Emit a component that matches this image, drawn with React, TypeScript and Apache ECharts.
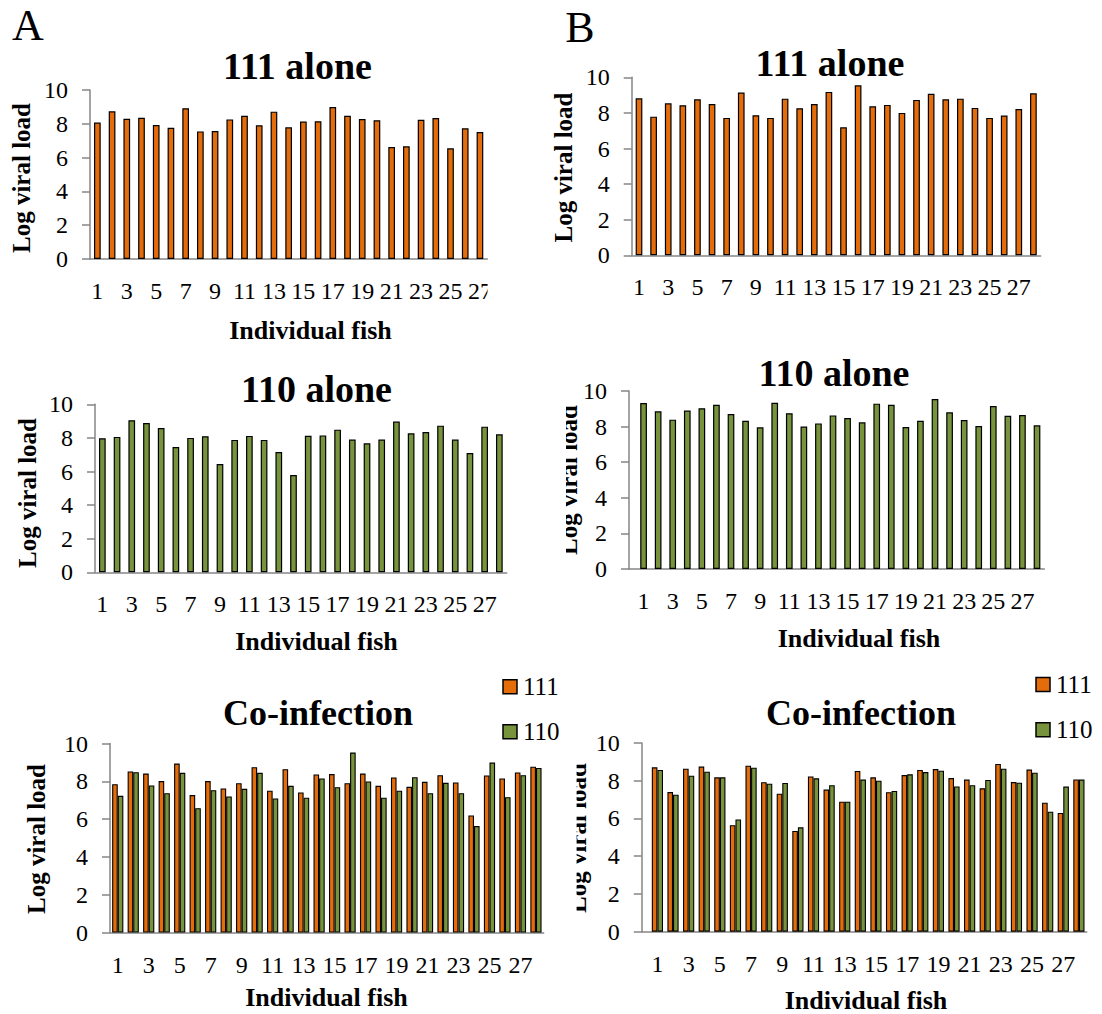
import React, { useEffect, useRef } from "react";
import * as echarts from "echarts";

// ---- data (Log viral load per individual fish) ----
const fishA111Alone = [8.07, 8.74, 8.30, 8.36, 7.93, 7.77, 8.92, 7.55, 7.57, 8.26, 8.48, 7.91, 8.72, 7.79, 8.13, 8.15, 8.99, 8.48, 8.28, 8.21, 6.63, 6.67, 8.24, 8.34, 6.55, 7.73, 7.51];
const fishB111Alone = [8.82, 7.79, 8.54, 8.43, 8.76, 8.50, 7.72, 9.14, 7.87, 7.72, 8.80, 8.26, 8.50, 9.18, 7.19, 9.55, 8.37, 8.45, 8.00, 8.73, 9.08, 8.76, 8.80, 8.28, 7.72, 7.85, 8.22, 9.10];
const fishA110Alone = [7.98, 8.06, 9.05, 8.89, 8.59, 7.46, 8.00, 8.10, 6.45, 7.88, 8.12, 7.88, 7.16, 5.79, 8.13, 8.15, 8.49, 7.90, 7.68, 7.90, 8.97, 8.27, 8.35, 8.73, 7.90, 7.10, 8.67, 8.21];
const fishB110Alone = [9.33, 8.86, 8.39, 8.90, 9.03, 9.23, 8.71, 8.33, 7.96, 9.34, 8.75, 8.00, 8.18, 8.63, 8.48, 8.24, 9.29, 9.23, 7.98, 8.33, 9.55, 8.80, 8.37, 8.03, 9.16, 8.61, 8.65, 8.07];
const fishACo111 = [7.85, 8.52, 8.41, 8.01, 8.94, 7.27, 8.01, 7.62, 7.90, 8.75, 7.50, 8.64, 7.41, 8.36, 8.38, 7.90, 8.41, 7.76, 8.20, 7.71, 7.97, 8.32, 7.94, 6.19, 8.31, 8.15, 8.47, 8.77];
const fishACo110 = [7.23, 8.48, 7.78, 7.37, 8.45, 6.58, 7.53, 7.20, 7.60, 8.45, 7.09, 7.76, 7.13, 8.15, 7.69, 9.52, 7.99, 7.13, 7.50, 8.22, 7.37, 7.92, 7.37, 5.63, 8.99, 7.16, 8.32, 8.71];
const fishBCo111 = [8.71, 7.40, 8.64, 8.75, 8.18, 5.64, 8.80, 7.92, 7.31, 5.34, 8.23, 7.53, 6.89, 8.52, 8.18, 7.39, 8.30, 8.57, 8.62, 8.14, 8.06, 7.60, 8.89, 7.93, 8.59, 6.84, 6.29, 8.07];
const fishBCo110 = [8.57, 7.26, 8.27, 8.48, 8.18, 5.95, 8.69, 7.84, 7.88, 5.53, 8.13, 7.76, 6.89, 8.06, 8.00, 7.46, 8.34, 8.46, 8.53, 7.70, 7.76, 8.04, 8.64, 7.90, 8.43, 6.36, 7.69, 8.06];

const yTicks = [0, 2, 4, 6, 8, 10];
const seriesNames = ["111", "110"];
const panelTitles = ["111 alone", "111 alone", "110 alone", "110 alone", "Co-infection", "Co-infection"];
const xName = "Individual fish";
const yName = "Log viral load";

const ORANGE = "#E46C0A";
const GREEN = "#77933C";
const AXIS = "#868686";
const FAMILY = "Liberation Serif";

const toPoints = (vals: number[]) => vals.map((v, i) => [i + 1, v]);

export default function App() {
  const ref = useRef<HTMLDivElement>(null);

  useEffect(() => {
    if (!ref.current) return;
    const chart = echarts.init(ref.current, null, { renderer: "svg" });

    const grids = [
      { left: 90, top: 90, width: 397.3, height: 169, min: 0.5, max: 27.5 },
      { left: 631.7, top: 77.3, width: 409, height: 178, min: 0.5, max: 28.5 },
      { left: 95, top: 404.3, width: 411.7, height: 168, min: 0.5, max: 28.5 },
      { left: 629, top: 391, width: 415.3, height: 178, min: 0, max: 28.5 },
      { left: 110, top: 743.5, width: 433.7, height: 189, min: 0.5, max: 28.5 },
      { left: 641.8, top: 743, width: 444.9, height: 188.7, min: 0, max: 28.5 },
    ];

    const xAxes = grids.map((g, i) => ({
      type: "value",
      gridIndex: i,
      min: g.min,
      max: g.max,
      interval: 0.5,
      axisLine: { show: true, lineStyle: { color: AXIS, width: 1.5 } },
      axisTick: { show: false },
      splitLine: { show: false },
      axisLabel: {
        margin: 20,
        fontFamily: FAMILY,
        fontSize: 24,
        color: "#000",
        showMinLabel: true,
        showMaxLabel: true,
        formatter: (v: number) => {
          const r = Math.round(v);
          return Math.abs(v - r) < 1e-6 && r % 2 === 1 && r <= 27 ? String(r) : "";
        },
      },
    }));

    const yAxes = grids.map((_, i) => ({
      type: "value",
      gridIndex: i,
      min: yTicks[0],
      max: yTicks[yTicks.length - 1],
      interval: yTicks[1] - yTicks[0],
      axisLine: { show: true, lineStyle: { color: AXIS, width: 1.5 } },
      axisTick: { show: true, inside: false, length: 8, lineStyle: { color: AXIS, width: 1.5 } },
      splitLine: { show: false },
      axisLabel: { margin: 22, fontFamily: FAMILY, fontSize: 24, color: "#000" },
    }));

    const single = (idx: number, vals: number[], color: string, name: string) => ({
      type: "bar",
      name,
      xAxisIndex: idx,
      yAxisIndex: idx,
      barWidth: 6.7,
      data: toPoints(vals),
      itemStyle: { color, borderColor: "#000", borderWidth: 1.2 },
    });
    const paired = (idx: number, vals: number[], color: string, name: string) => ({
      type: "bar",
      name,
      xAxisIndex: idx,
      yAxisIndex: idx,
      barWidth: 5.6,
      barGap: "0%",
      data: toPoints(vals),
      itemStyle: { color, borderColor: "#000", borderWidth: 1.1 },
    });

    const series = [
      single(0, fishA111Alone, ORANGE, seriesNames[0]),
      single(1, fishB111Alone, ORANGE, seriesNames[0]),
      single(2, fishA110Alone, GREEN, seriesNames[1]),
      single(3, fishB110Alone, GREEN, seriesNames[1]),
      paired(4, fishACo111, ORANGE, seriesNames[0]),
      paired(4, fishACo110, GREEN, seriesNames[1]),
      paired(5, fishBCo111, ORANGE, seriesNames[0]),
      paired(5, fishBCo110, GREEN, seriesNames[1]),
    ];

    const txt = (x: number, y: number, text: string, size: number, weight: string, rotation = 0) => ({
      type: "text",
      x,
      y,
      rotation,
      z: 100,
      style: {
        text,
        fontFamily: FAMILY,
        fontSize: size,
        fontWeight: weight,
        fill: "#000",
        align: "center",
        verticalAlign: "middle",
        textAlign: "center",
        textVerticalAlign: "middle",
      },
    });

    const titlePos = [
      [297.5, 65.5],
      [830, 63],
      [316.5, 389],
      [834, 373.3],
      [318, 713],
      [861, 712.5],
    ];
    const xNamePos = [
      [310.5, 330],
      [316.5, 641.5],
      [859, 638.5],
      [326.5, 997],
      [866, 1000],
    ];
    const yNamePos = [
      [21.5, 178],
      [563.5, 167.5],
      [27, 493],
      [568, 480],
      [36.5, 839],
      [577.5, 838],
    ];

    const legendItem = (x: number, y: number, color: string, label: string) => [
      {
        type: "rect",
        z: 100,
        shape: { x, y: y - 7, width: 14, height: 14 },
        style: { fill: color, stroke: "#000", lineWidth: 1.5 },
      },
      {
        type: "text",
        z: 100,
        x: x + 20,
        y,
        style: {
          text: label,
          fontFamily: FAMILY,
          fontSize: 25,
          fill: "#000",
          align: "left",
          verticalAlign: "middle",
          textAlign: "left",
          textVerticalAlign: "middle",
        },
      },
    ];

    const whiteRect = (x: number, y: number, w: number, h: number) => ({
      type: "rect",
      z: 200,
      shape: { x, y, width: w, height: h },
      style: { fill: "#fff" },
    });

    const graphic = [
      txt(28, 25, "A", 44, "normal"),
      txt(580, 27.5, "B", 44, "normal"),
      ...titlePos.map((p, i) => txt(p[0], p[1], panelTitles[i], i < 4 ? 38 : 36, "bold")),
      ...xNamePos.map((p) => txt(p[0], p[1], xName, 26, "bold")),
      ...yNamePos.map((p) => txt(p[0], p[1], yName, 25, "bold", Math.PI / 2)),
      ...legendItem(503, 686.7, ORANGE, seriesNames[0]),
      ...legendItem(503, 731.7, GREEN, seriesNames[1]),
      ...legendItem(1036, 684.5, ORANGE, seriesNames[0]),
      ...legendItem(1036, 729.7, GREEN, seriesNames[1]),
      // crop edges of the original figure panels
      whiteRect(487.6, 270, 45, 40),
      whiteRect(548, 380, 18, 220),
      whiteRect(552, 745, 24.6, 190),
    ];

    chart.setOption({
      animation: false,
      backgroundColor: "#fff",
      textStyle: { fontFamily: FAMILY },
      grid: grids.map((g) => ({ left: g.left, top: g.top, width: g.width, height: g.height, containLabel: false })),
      xAxis: xAxes,
      yAxis: yAxes,
      series,
      graphic,
    });

    return () => chart.dispose();
  }, []);

  return (
    <div
      ref={ref}
      style={{ position: "absolute", left: 0, top: 0, width: 1102, height: 1014, background: "#fff" }}
    />
  );
}
